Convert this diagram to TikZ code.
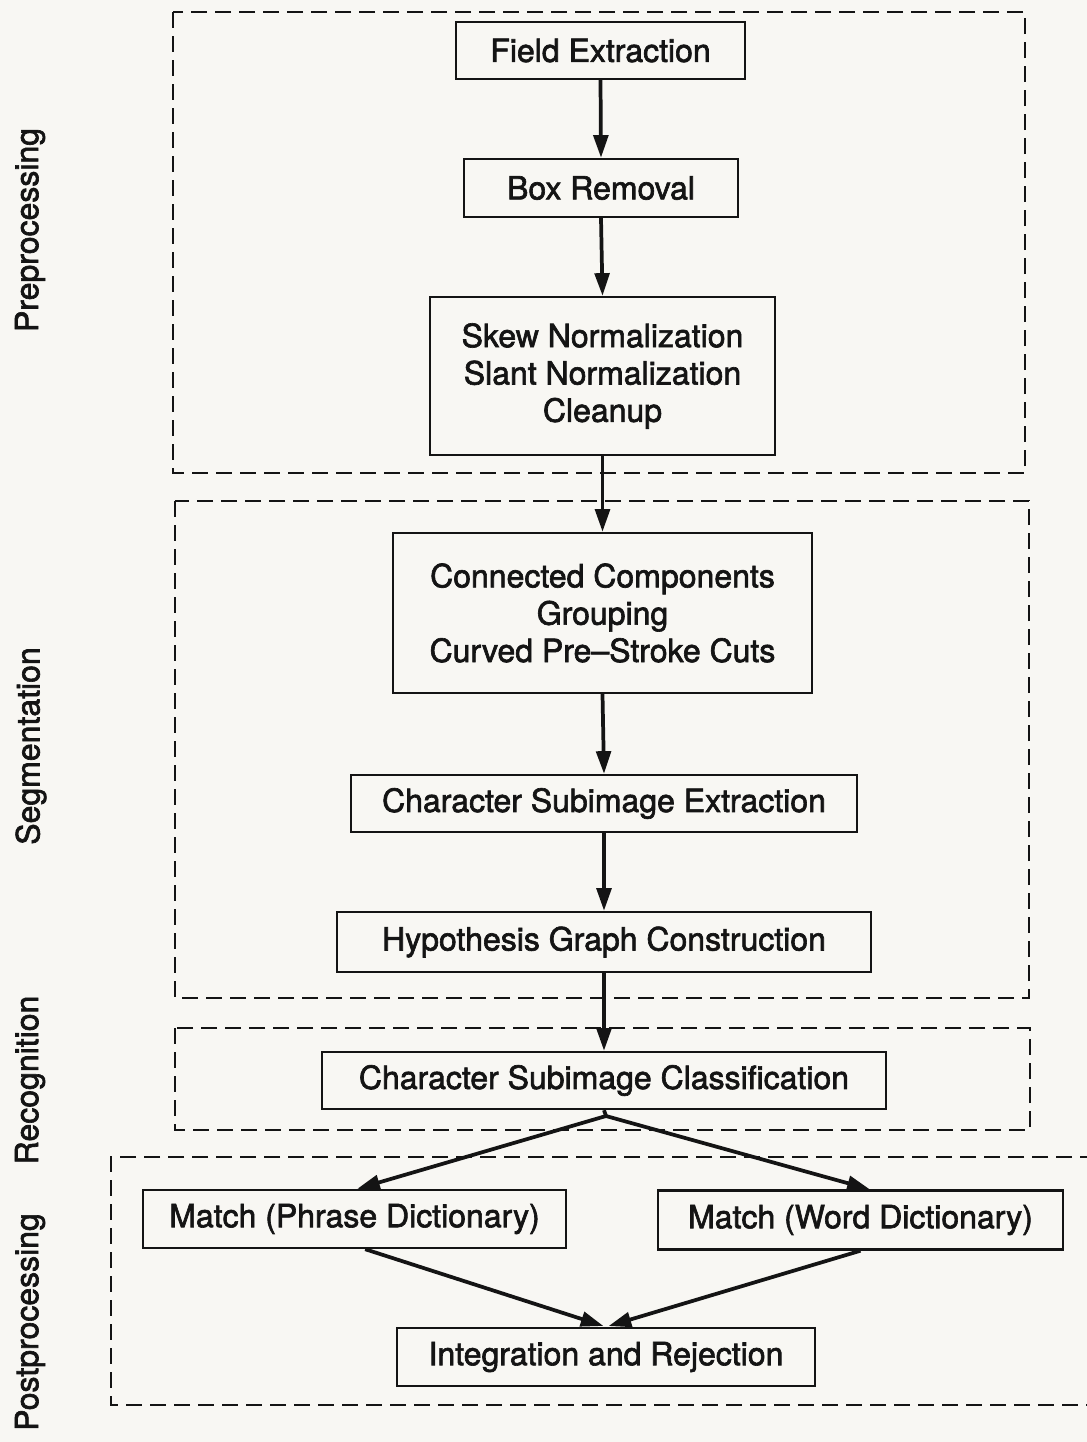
\documentclass[tikz,border=0pt]{standalone}
\usepackage{fontspec}
\setmainfont{TeX Gyre Heros}[FakeBold=2]
\usetikzlibrary{arrows.meta}
\definecolor{paper}{RGB}{248,247,243}
\definecolor{ink}{RGB}{20,20,20}
\newcommand{\upx}{0.75pt}
\begin{document}
\begin{tikzpicture}[x=0.75pt,y=-0.75pt,
  every node/.style={font=\fontsize{24}{28}\selectfont, text=ink},
  stepbox/.style 2 args={draw=ink, line width=1.8pt, inner sep=0pt, align=center,
    minimum width=#1*\upx, minimum height=#2*\upx},
  flow/.style={draw=ink, line width=2.8pt,
    -{Triangle[length=17pt,width=11pt]}},
  stage/.style={draw=ink, line width=1.5pt, dash pattern=on 12pt off 6pt},
  stagelabel/.style={rotate=90, inner sep=0pt}]
% page
\fill[paper] (0,0) rectangle (1087,1442);
\useasboundingbox (0,0) rectangle (1087,1442);

% stage frames
\draw[stage] (173,12) rectangle (1025,473);
\draw[stage] (175,501) rectangle (1029,998);
\draw[stage] (175,1028) rectangle (1030,1130);
\draw[stage] (1120,1157) -- (111,1157) -- (111,1405) -- (1120,1405);

% stage names
\node[stagelabel] (lpre)  at (30,230)  {Preprocessing};
\node[stagelabel] (lseg)  at (31,746)  {Segmentation};
\node[stagelabel] (lrec)  at (30,1080) {Recognition};
\node[stagelabel] (lpost) at (30,1322) {Postprocessing};

% processing steps
\node[stepbox={289}{57}]  (fe)  at (600.5,50.5) {Field Extraction};
\node[stepbox={274}{58}]  (br)  at (601,188)    {Box Removal};
\node[stepbox={345}{158}] (sk)  at (602.5,376)  {Skew Normalization\\Slant Normalization\\Cleanup};
\node[stepbox={419}{160}] (cc)  at (602.5,613)  {Connected Components\\Grouping\\Curved Pre--Stroke Cuts};
\node[stepbox={506}{57}]  (cse) at (604,803.5)  {Character Subimage Extraction};
\node[stepbox={534}{60}]  (hgc) at (604,942)    {Hypothesis Graph Construction};
\node[stepbox={564}{57}]  (csc) at (604,1080.5) {Character Subimage Classification};
\node[stepbox={423}{58}]  (mp)  at (354.5,1219) {Match (Phrase Dictionary)};
\node[stepbox={405}{59}]  (mw)  at (860.5,1220) {Match (Word Dictionary)};
\node[stepbox={418}{58}]  (ir)  at (606,1357)   {Integration and Rejection};

\coordinate (fork) at (606,1116);

% connectors
\draw[flow] (fe.south) -- (br.north);
\draw[flow] (br.south) -- (sk.north);
\draw[flow] (sk.south) -- (cc.north);
\draw[flow] (cc.south) -- (cse.north);
\draw[flow] (cse.south) -- (hgc.north);
\draw[flow] (hgc.south) -- (csc.north);
\draw[ink, line width=2.8pt] (csc.south) -- (fork);
\draw[flow] (fork) -- ([xshift=2pt]mp.north);
\draw[flow] (fork) -- ([xshift=7pt]mw.north);
\draw[flow, shorten >=2pt] ([xshift=8pt]mp.south) -- (ir.north);
\draw[flow, shorten >=2pt] (mw.south) -- (ir.north);
\end{tikzpicture}
\end{document}
